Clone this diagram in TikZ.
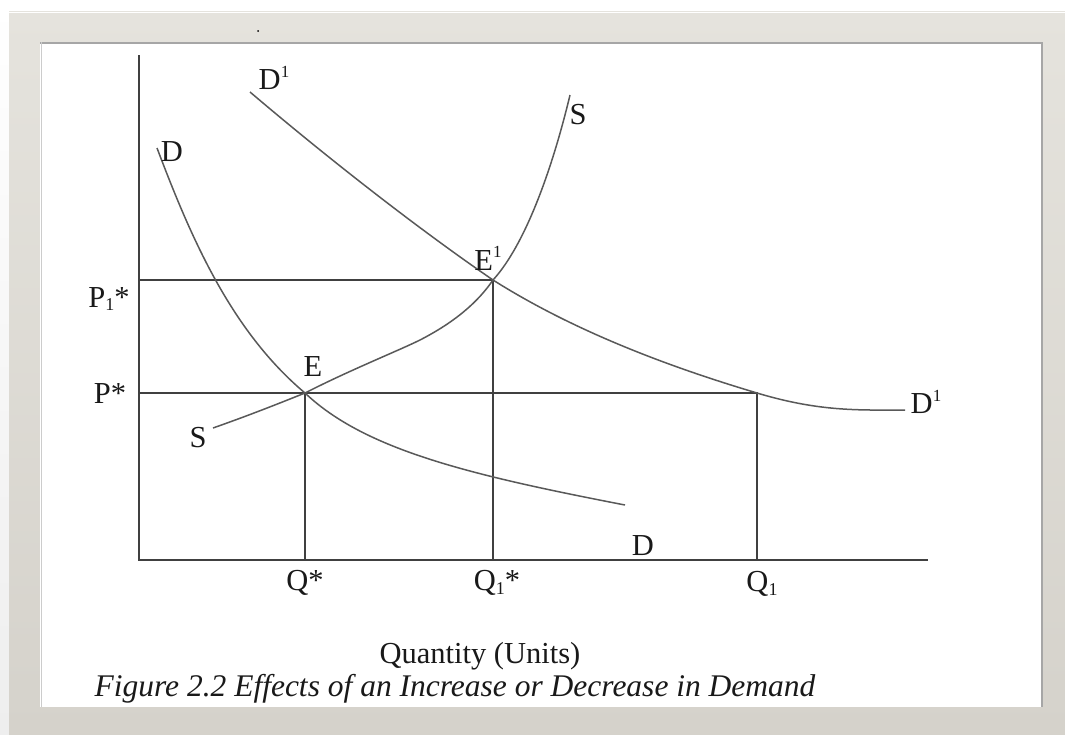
\documentclass[tikz,border=0pt]{standalone}
\usepackage{fontspec}
\setmainfont{Liberation Serif}
\definecolor{framecol}{HTML}{E5E3DD}
\definecolor{framedark}{HTML}{D5D2CB}
\definecolor{pagebg}{HTML}{EEEEEE}
\newcommand{\supone}{\raisebox{0.42em}{\fontsize{17}{17}\selectfont 1}}
\newcommand{\subone}{\raisebox{-0.12em}{\fontsize{18}{18}\selectfont 1}}
\begin{document}
\begin{tikzpicture}[x=1pt,y=-1pt,
  axis/.style={draw=black!75,line width=1.8pt},
  guide/.style={draw=black!75,line width=1.6pt},
  curve/.style={draw=black!65,line width=1.5pt},
  lbl/.style={inner sep=0pt,font=\fontsize{30.5}{32}\selectfont,text=black!90},
  captext/.style={inner sep=0pt,font=\fontsize{31.5}{33}\selectfont\itshape,text=black!90}]
\useasboundingbox (0,0) rectangle (1065,734);
% page background and frame
\fill[top color=white,bottom color=pagebg] (0,0) rectangle (1065,734);
\fill[top color=framecol,bottom color=framedark] (9,11) rectangle (1065,734);
\draw[white,line width=1pt] (9,12) -- (1065,12);
\fill[white] (40,42) rectangle (1043,707);
\draw[black!35,line width=1.5pt] (40,43) -- (1042,43) -- (1042,707);
\draw[black!20,line width=1pt] (41,42) -- (41,707);
\fill[black] (258,31) circle (1pt);
% key points
\coordinate (O) at (139,560);
\coordinate (Ytop) at (139,55);
\coordinate (Xend) at (928,560);
\coordinate (E) at (305,393);
\coordinate (E1) at (493,280);
\coordinate (F) at (757,393);
\coordinate (P1) at (139,280);
\coordinate (P0) at (139,393);
\coordinate (Qs) at (305,560);
\coordinate (Q1s) at (493,560);
\coordinate (Q1) at (757,560);
% axes
\draw[axis] (Ytop) -- (O) -- (Xend);
% guides
\draw[guide] (P1) -- (E1) -- (Q1s);
\draw[guide] (P0) -- (E) -- (F) -- (Q1);
\draw[guide] (E) -- (Qs);
% demand D
\draw[curve] (157,148) .. controls (190,235) and (230,330) .. (E)
  .. controls (365,450) and (470,475) .. (625,505);
% demand D1
\draw[curve] (250,92) .. controls (330,160) and (420,230) .. (E1)
  .. controls (580,335) and (680,370) .. (F)
  .. controls (820,412) and (860,410) .. (905,410);
% supply S
\draw[curve] (213,428) .. controls (250,415) and (280,403) .. (E) .. controls (350,370) and (400,350) .. (420,340)
  .. controls (455,322) and (478,302) .. (E1)
  .. controls (525,245) and (552,170) .. (570,95);
% labels
\node[lbl] (lD1t) at (274,78) {D\supone};
\node[lbl] (lDt) at (172,152) {D};
\node[lbl] (lSt) at (578,115) {S};
\node[lbl] (lE1) at (488,258) {E\supone};
\node[lbl] (lE) at (313,367) {E};
\node[lbl] (lP1) at (109,299) {P\subone*};
\node[lbl] (lP) at (110,394) {P*};
\node[lbl] (lSb) at (198,438) {S};
\node[lbl] (lDb) at (643,546) {D};
\node[lbl] (lD1r) at (926,402) {D\supone};
\node[lbl] (lQs) at (305,583) {Q*};
\node[lbl] (lQ1s) at (497,583) {Q\subone*};
\node[lbl] (lQ1) at (762,584) {Q\subone};
\node[lbl] (lqty) at (480,656) {Quantity (Units)};
\node[captext] (lcap) at (455,689) {Figure 2.2 Effects of an Increase or Decrease in Demand};
\end{tikzpicture}
\end{document}
